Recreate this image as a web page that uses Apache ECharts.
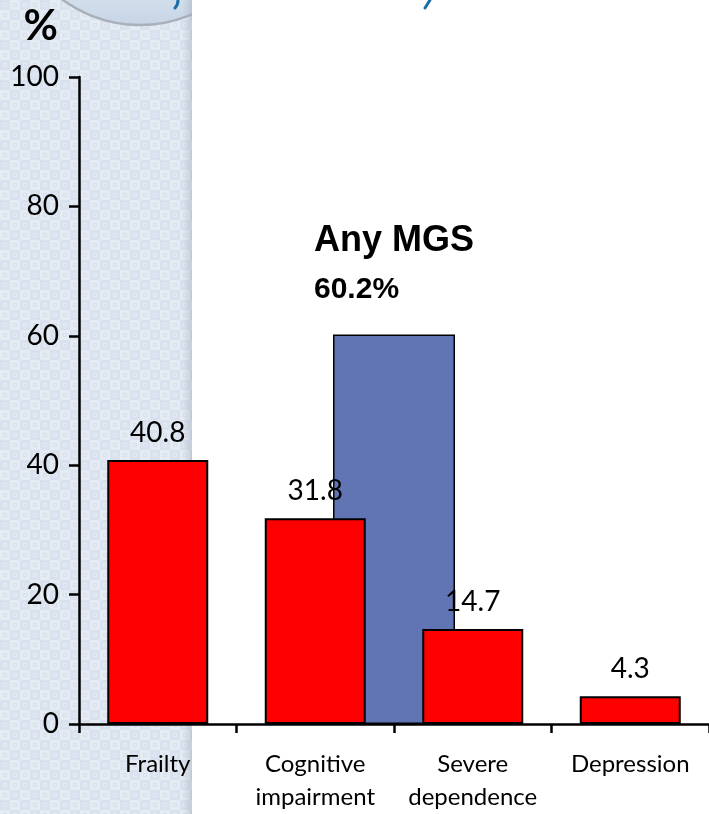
<!DOCTYPE html>
<html>
<head>
<meta charset="utf-8">
<script src="https://cdn.jsdelivr.net/npm/echarts@6/dist/echarts.min.js"></script>
<style>
  html, body { margin: 0; padding: 0; background: #ffffff; }
  #chart { width: 709px; height: 814px; }
</style>
</head>
<body>
<div id="chart"></div>
<script>
// Domain prevalence (%) per category
const categories = ['Frailty', 'Cognitive\nimpairment', 'Severe\ndependence', 'Depression'];
const domainValues = [40.8, 31.8, 14.7, 4.3];

// Overall "Any MGS" prevalence, centred between the 2nd and 3rd categories
const anyMgsLabel = 'Any MGS';
const anyMgsValue = 60.2;
const anyMgsPosition = 2;

// Value axis
const yMin = 0;
const yMax = 100;
const yStep = 20;

const FONT = 'Lato, "Open Sans", sans-serif';

// Decorative side panel: tiled light-blue texture, round badge and a soft edge
const PANEL_W = 192;
function buildPanel(h) {
  const edge = PANEL_W;
  const c = document.createElement('canvas');
  c.width = edge; c.height = h;
  const g = c.getContext('2d');
  g.fillStyle = '#dce4ef';
  g.fillRect(0, 0, edge, h);
  for (let y = 0; y < h; y += 10) {
    for (let x = 0; x < edge; x += 10) {
      const odd = ((x + y) / 10) % 2 === 1;
      g.fillStyle = odd ? '#e5ebf3' : '#d8e1ed';
      g.fillRect(x, y, 10, 10);
      g.strokeStyle = odd ? '#d7e0ec' : '#e3e9f2';
      g.lineWidth = 1;
      g.strokeRect(x + 3.5, y + 3.5, 3, 3);
    }
  }
  // badge circle
  g.beginPath(); g.arc(140, -106, 131, 0, Math.PI * 2);
  const grad = g.createLinearGradient(0, 0, 0, 26);
  grad.addColorStop(0, '#d3deeb');
  grad.addColorStop(1, '#c6d4e6');
  g.fillStyle = grad; g.fill();
  g.lineWidth = 2.5; g.strokeStyle = '#a9b0b9'; g.stroke();
  // soft right edge
  const eg = g.createLinearGradient(edge - 10, 0, edge, 0);
  eg.addColorStop(0, 'rgba(170,180,195,0)');
  eg.addColorStop(1, 'rgba(160,170,185,0.45)');
  g.fillStyle = eg;
  g.fillRect(edge - 10, 0, 10, h);
  return c;
}

// Descender strokes of the heading running along the top edge
function buildHeadingMarks() {
  const c = document.createElement('canvas');
  c.width = 709; c.height = 30;
  const g = c.getContext('2d');
  g.strokeStyle = '#1a6fa6';
  g.lineWidth = 3;
  g.lineCap = 'round';
  g.beginPath(); g.moveTo(178, 0); g.quadraticCurveTo(178, 5, 175, 8); g.stroke();
  g.beginPath(); g.moveTo(430, 0); g.lineTo(425, 8); g.stroke();
  return c;
}

const chart = echarts.init(document.getElementById('chart'), null, { renderer: 'canvas' });

const option = {
  backgroundColor: '#ffffff',
  animation: false,
  graphic: [
    { type: 'image', left: 0, top: 0, z: -10, silent: true,
      style: { image: buildPanel(814), x: 0, y: 0, width: PANEL_W, height: 814 } },
    { type: 'image', left: 0, top: 0, z: -9, silent: true,
      style: { image: buildHeadingMarks(), x: 0, y: 0, width: 709, height: 30 } }
  ],
  grid: { left: 79, top: 77, width: 633, height: 649, containLabel: false },
  xAxis: [
    {
      type: 'category',
      data: categories,
      axisLine: { show: true, lineStyle: { color: '#000', width: 2.5 } },
      axisTick: { show: true, length: 9, alignWithLabel: false, lineStyle: { color: '#000', width: 2.5 } },
      axisLabel: { color: '#000', fontFamily: FONT, fontSize: 24, lineHeight: 33, margin: 24, interval: 0 },
      splitLine: { show: false }
    },
    {
      type: 'value',
      min: 0, max: 4,
      show: false,
      position: 'bottom'
    }
  ],
  yAxis: {
    type: 'value',
    min: yMin, max: yMax, interval: yStep,
    name: '%',
    nameLocation: 'end',
    nameGap: 30,
    nameTextStyle: { color: '#000', fontFamily: FONT, fontWeight: 'bold', fontSize: 42, align: 'right', padding: [0, 21, 0, 0] },
    axisLine: { show: true, lineStyle: { color: '#000', width: 2.5 } },
    axisTick: { show: true, length: 10, inside: false, lineStyle: { color: '#000', width: 2.5 } },
    axisLabel: { color: '#000', fontFamily: FONT, fontSize: 28, margin: 20 },
    splitLine: { show: false }
  },
  series: [
    {
      name: anyMgsLabel,
      type: 'bar',
      xAxisIndex: 1,
      z: 1,
      barWidth: 122,
      data: [[anyMgsPosition, anyMgsValue]],
      itemStyle: { color: '#6175b4', borderColor: '#000', borderWidth: 1.5 },
      label: {
        show: true,
        position: 'top',
        distance: 25,
        formatter: (p) => '{a|' + anyMgsLabel + '}\n{b|' + p.value[1] + '%}',
        rich: {
          a: { fontFamily: '"Liberation Sans", Arial, sans-serif', fontWeight: 'bold', fontSize: 36, lineHeight: 56, color: '#000', align: 'left' },
          b: { fontFamily: '"Liberation Sans", Arial, sans-serif', fontWeight: 'bold', fontSize: 30, lineHeight: 40, color: '#000', align: 'left' }
        }
      }
    },
    {
      name: 'Domain',
      type: 'bar',
      xAxisIndex: 0,
      z: 3,
      barWidth: 101,
      data: domainValues,
      itemStyle: { color: '#ff0000', borderColor: '#000', borderWidth: 2 },
      label: {
        show: true,
        position: 'top',
        distance: 13,
        color: '#000',
        fontFamily: FONT,
        fontSize: 28
      }
    }
  ]
};

chart.setOption(option);
</script>
</body>
</html>
